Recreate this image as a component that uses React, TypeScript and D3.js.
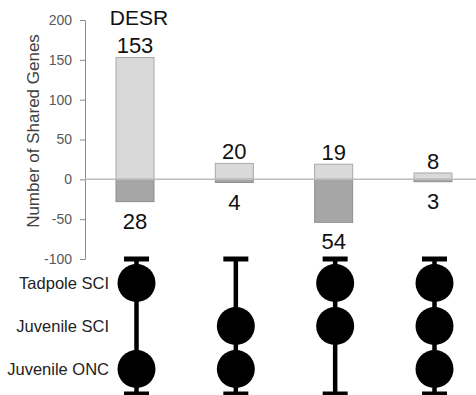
import React, { useEffect, useRef } from "react";
import * as d3 from "d3";

// intersection sets (columns)
const sets = ["A", "B", "C", "D"];
const upValues = [153, 20, 19, 8];
const downValues = [28, 4, 54, 3];
const groups = ["Tadpole SCI", "Juvenile SCI", "Juvenile ONC"];
// which groups take part in each set
const membership = [
  ["Tadpole SCI", "Juvenile ONC"],
  ["Juvenile SCI", "Juvenile ONC"],
  ["Tadpole SCI", "Juvenile SCI"],
  ["Tadpole SCI", "Juvenile SCI", "Juvenile ONC"],
];
const yTicks = [200, 150, 100, 50, 0, -50, -100];

const FONT = "'Liberation Sans', Arial, Helvetica, sans-serif";

const App = () => {
  const svgRef = useRef<SVGSVGElement>(null);
  const width = 476;
  const height = 395;

  useEffect(() => {
    const svg = d3.select(svgRef.current);
    svg.selectAll("*").remove();

    const axisX = 85;
    const x = d3.scalePoint<string>().domain(sets).range([135, 433]);
    const y = d3.scaleLinear().domain([-100, 200]).range([259, 20]);
    const rowY = d3.scalePoint<string>().domain(groups).range([283, 369]);
    const barW = 38;

    // y axis
    const yAxis = d3
      .axisLeft(y)
      .tickValues(yTicks)
      .tickFormat((d) => String(d))
      .tickSize(5)
      .tickSizeOuter(0)
      .tickPadding(8);
    const ag = svg
      .append("g")
      .attr("transform", `translate(${axisX},0)`)
      .call(yAxis);
    ag.select(".domain").attr("stroke", "#8a8a8a");
    ag.selectAll(".tick line").attr("stroke", "#8a8a8a");
    ag.selectAll(".tick text")
      .attr("fill", "#595959")
      .style("font-family", FONT)
      .style("font-size", "14px");

    svg
      .append("text")
      .attr("transform", `translate(39,${131}) rotate(-90)`)
      .attr("text-anchor", "middle")
      .style("font-family", FONT)
      .style("font-size", "17px")
      .attr("fill", "#404040")
      .text("Number of Shared Genes");

    // up bars
    svg
      .selectAll(".up")
      .data(upValues)
      .enter()
      .append("rect")
      .attr("x", (d, i) => x(sets[i])! - barW / 2)
      .attr("y", (d) => y(d))
      .attr("width", barW)
      .attr("height", (d) => y(0) - y(d))
      .attr("fill", "#d9d9d9")
      .attr("stroke", "#a9a9a9")
      .attr("stroke-width", 1);

    // down bars
    svg
      .selectAll(".down")
      .data(downValues)
      .enter()
      .append("rect")
      .attr("x", (d, i) => x(sets[i])! - barW / 2)
      .attr("y", y(0))
      .attr("width", barW)
      .attr("height", (d) => y(-d) - y(0))
      .attr("fill", "#a6a6a6")
      .attr("stroke", "#8f8f8f")
      .attr("stroke-width", 1);

    // zero line
    svg
      .append("line")
      .attr("x1", axisX)
      .attr("x2", width)
      .attr("y1", y(0))
      .attr("y2", y(0))
      .attr("stroke", "#bdbdbd")
      .attr("stroke-width", 1.5);

    // value labels
    svg
      .selectAll(".upLabel")
      .data(upValues)
      .enter()
      .append("text")
      .attr("x", (d, i) => x(sets[i])!)
      .attr("y", (d) => y(d) - 4)
      .attr("text-anchor", "middle")
      .style("font-family", FONT)
      .style("font-size", "22px")
      .attr("fill", "#111")
      .text((d) => d);

    svg
      .selectAll(".downLabel")
      .data(downValues)
      .enter()
      .append("text")
      .attr("x", (d, i) => x(sets[i])!)
      .attr("y", (d) => y(-d) + 27)
      .attr("text-anchor", "middle")
      .style("font-family", FONT)
      .style("font-size", "22px")
      .attr("fill", "#111")
      .text((d) => d);

    svg
      .append("text")
      .attr("x", x(sets[0])! + 4)
      .attr("y", 25)
      .attr("text-anchor", "middle")
      .style("font-family", FONT)
      .style("font-size", "21px")
      .attr("fill", "#111")
      .text("DESR");

    // matrix
    const top = 259;
    const bottom = 394;
    const cols = svg
      .selectAll(".col")
      .data(sets)
      .enter()
      .append("g")
      .attr("transform", (d) => `translate(${x(d)! + 1.5},0)`);

    cols
      .append("line")
      .attr("y1", top)
      .attr("y2", bottom)
      .attr("stroke", "#000")
      .attr("stroke-width", 4.5);
    cols
      .append("line")
      .attr("x1", -12.5)
      .attr("x2", 12.5)
      .attr("y1", top)
      .attr("y2", top)
      .attr("stroke", "#000")
      .attr("stroke-width", 5);
    cols
      .append("line")
      .attr("x1", -12.5)
      .attr("x2", 12.5)
      .attr("y1", bottom)
      .attr("y2", bottom)
      .attr("stroke", "#000")
      .attr("stroke-width", 5);

    cols
      .selectAll("circle")
      .data((d, i) => membership[i])
      .enter()
      .append("circle")
      .attr("cy", (g) => rowY(g)!)
      .attr("r", 19)
      .attr("fill", "#000");

    // row labels
    svg
      .selectAll(".rowLabel")
      .data(groups)
      .enter()
      .append("text")
      .attr("x", 109)
      .attr("y", (g) => rowY(g)! + 6)
      .attr("text-anchor", "end")
      .style("font-family", FONT)
      .style("font-size", "16.5px")
      .attr("fill", "#222")
      .text((g) => g);
  }, []);

  return (
    <svg
      ref={svgRef}
      width={width}
      height={height}
      style={{ position: "absolute", left: 0, top: 0, background: "#fff" }}
    ></svg>
  );
};

export default App;
